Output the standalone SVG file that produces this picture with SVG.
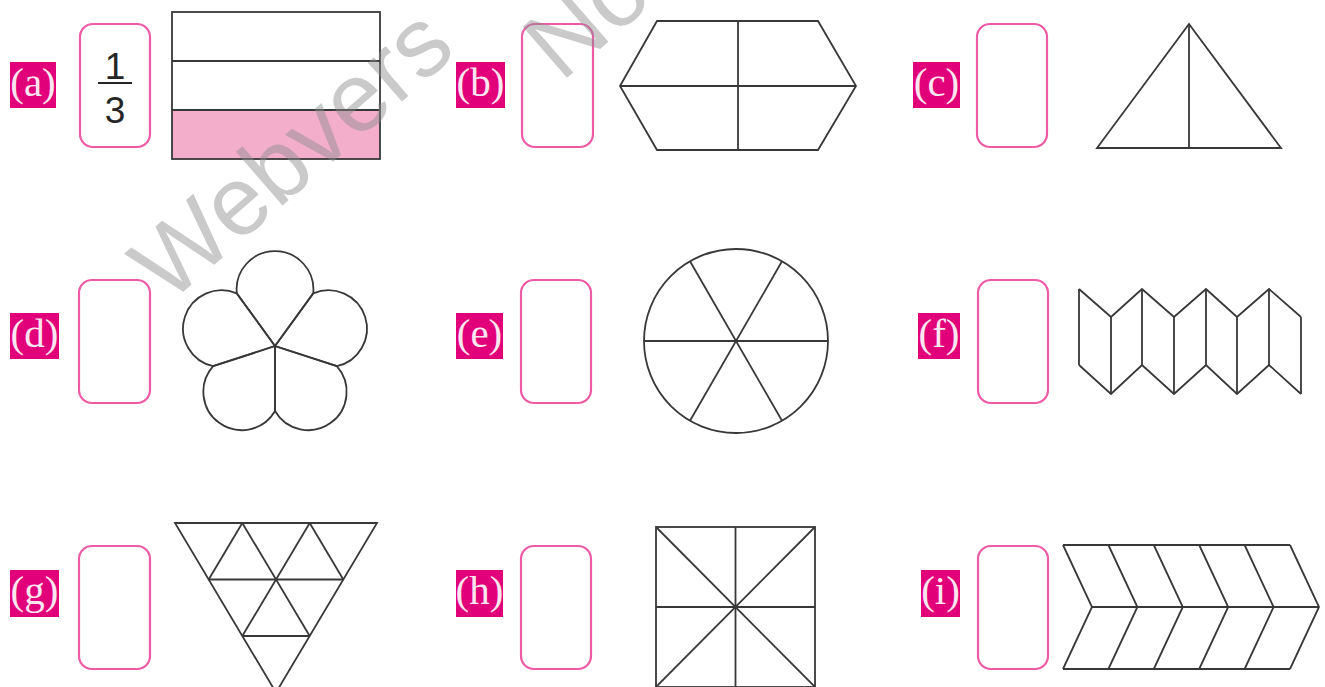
<svg xmlns="http://www.w3.org/2000/svg" width="1325" height="687" viewBox="0 0 1325 687">
<style>
.lbl{fill:#e2007a}
.lt{font-family:"Liberation Serif","Times New Roman",serif;font-size:41px;fill:#fbe6f1;text-anchor:middle}
.box{fill:none;stroke:#ee5aa5;stroke-width:2.2}
.ln{fill:none;stroke:#383838;stroke-width:1.8;stroke-linejoin:miter}
.num{font-family:"Liberation Sans",Arial,sans-serif;font-size:37px;fill:#262626;text-anchor:middle}
.wm{font-family:"Liberation Sans",Arial,sans-serif;font-size:98px;fill:#8c8c8c;opacity:0.45}
</style>
<rect width="1325" height="687" fill="#ffffff"/>

<g id="node-a">
<rect class="lbl" x="10" y="62" width="46" height="46"/>
<text class="lt" x="33" y="96">(a)</text>
<rect class="box" x="80" y="24" width="70" height="123" rx="13"/>
<text class="num" x="115" y="79">1</text>
<line x1="98" y1="83" x2="132" y2="83" stroke="#262626" stroke-width="2"/>
<text class="num" x="115" y="123">3</text>
<rect x="172" y="110" width="208" height="49" fill="#f2aecb"/>
<rect class="ln" x="172" y="12" width="208" height="147"/>
<line class="ln" x1="172" y1="61" x2="380" y2="61"/>
<line class="ln" x1="172" y1="110" x2="380" y2="110"/>
</g>

<g id="node-b">
<rect class="lbl" x="456" y="62" width="49" height="46"/>
<text class="lt" x="480.5" y="96">(b)</text>
<rect class="box" x="522" y="24" width="71" height="123" rx="13"/>
<polygon class="ln" points="620,86 657,21 818,21 856,86 818,150 657,150"/>
<line class="ln" x1="620" y1="86" x2="856" y2="86"/>
<line class="ln" x1="738" y1="21" x2="738" y2="150"/>
</g>

<g id="node-c">
<rect class="lbl" x="913" y="62" width="47" height="46"/>
<text class="lt" x="936.5" y="96">(c)</text>
<rect class="box" x="977" y="24" width="70" height="123" rx="13"/>
<polygon class="ln" points="1189,24 1281,148 1097,148"/>
<line class="ln" x1="1189" y1="24" x2="1189" y2="148"/>
</g>

<g id="node-d">
<rect class="lbl" x="10" y="313" width="49" height="46"/>
<text class="lt" x="34.5" y="347">(d)</text>
<rect class="box" x="79" y="280" width="71" height="123" rx="13"/>
<path class="ln" d="M275,346 L236.8,293.4 A38.4,38.4 0 1 1 313.2,293.4 Z"/>
<path class="ln" d="M275,346 L313.2,293.4 A38.4,38.4 0 1 1 336.8,366.1 Z"/>
<path class="ln" d="M275,346 L336.8,366.1 A38.4,38.4 0 1 1 275,411 Z"/>
<path class="ln" d="M275,346 L275,411 A38.4,38.4 0 1 1 213.2,366.1 Z"/>
<path class="ln" d="M275,346 L213.2,366.1 A38.4,38.4 0 1 1 236.8,293.4 Z"/>
</g>

<g id="node-e">
<rect class="lbl" x="456" y="313" width="47" height="46"/>
<text class="lt" x="479.5" y="347">(e)</text>
<rect class="box" x="521" y="280" width="70" height="123" rx="13"/>
<circle class="ln" cx="736" cy="341" r="92"/>
<line class="ln" x1="644" y1="341" x2="828" y2="341"/>
<line class="ln" x1="690" y1="261.3" x2="782" y2="420.7"/>
<line class="ln" x1="782" y1="261.3" x2="690" y2="420.7"/>
</g>

<g id="node-f">
<rect class="lbl" x="918" y="313" width="42" height="46"/>
<text class="lt" x="939" y="347">(f)</text>
<rect class="box" x="978" y="280" width="70" height="123" rx="13"/>
<polyline class="ln" points="1079,289 1111,317 1142,289 1174,317 1206,289 1237,317 1269,289 1301,317"/>
<polyline class="ln" points="1079,365 1111,394 1142,365 1174,394 1206,365 1237,394 1269,365 1301,394"/>
<path class="ln" d="M1079,289V365M1111,317V394M1142,289V365M1174,317V394M1206,289V365M1237,317V394M1269,289V365M1301,317V394"/>
</g>

<g id="node-g">
<rect class="lbl" x="10" y="570" width="49" height="47"/>
<text class="lt" x="34.5" y="604">(g)</text>
<rect class="box" x="79" y="546" width="71" height="123" rx="13"/>
<polygon class="ln" points="175,523 377,523 276,692.5"/>
<line class="ln" x1="208.7" y1="579.5" x2="343.3" y2="579.5"/>
<line class="ln" x1="242.3" y1="636" x2="309.7" y2="636"/>
<line class="ln" x1="242.3" y1="523" x2="309.7" y2="636"/>
<line class="ln" x1="309.7" y1="523" x2="343.3" y2="579.5"/>
<line class="ln" x1="309.7" y1="523" x2="242.3" y2="636"/>
<line class="ln" x1="242.3" y1="523" x2="208.7" y2="579.5"/>
</g>

<g id="node-h">
<rect class="lbl" x="456" y="570" width="47" height="47"/>
<text class="lt" x="479.5" y="604">(h)</text>
<rect class="box" x="521" y="546" width="70" height="123" rx="13"/>
<rect class="ln" x="656" y="527" width="159" height="160"/>
<line class="ln" x1="735.5" y1="527" x2="735.5" y2="687"/>
<line class="ln" x1="656" y1="607" x2="815" y2="607"/>
<line class="ln" x1="656" y1="527" x2="815" y2="687"/>
<line class="ln" x1="815" y1="527" x2="656" y2="687"/>
</g>

<g id="node-i">
<rect class="lbl" x="921" y="570" width="39" height="47"/>
<text class="lt" x="940.5" y="604">(i)</text>
<rect class="box" x="978" y="546" width="70" height="123" rx="13"/>
<line class="ln" x1="1063" y1="545" x2="1290" y2="545"/>
<line class="ln" x1="1063" y1="669" x2="1290" y2="669"/>
<line class="ln" x1="1092" y1="607" x2="1319" y2="607"/>
<polyline class="ln" points="1063,545 1092,607 1063,669"/>
<polyline class="ln" points="1108.4,545 1137.4,607 1108.4,669"/>
<polyline class="ln" points="1153.8,545 1182.8,607 1153.8,669"/>
<polyline class="ln" points="1199.2,545 1228.2,607 1199.2,669"/>
<polyline class="ln" points="1244.6,545 1273.6,607 1244.6,669"/>
<polyline class="ln" points="1290,545 1319,607 1290,669"/>
</g>

<g id="connectors"></g>

<g id="watermark">
<text class="wm" transform="translate(168,305) rotate(-41)">Webvers</text>
<text class="wm" transform="translate(561,83) rotate(-41)">No</text>
</g>
</svg>
